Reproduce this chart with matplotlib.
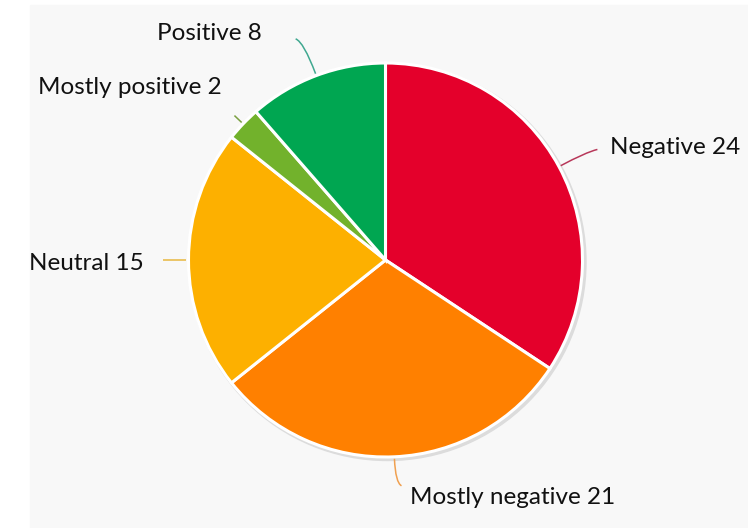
import numpy as np
import matplotlib.pyplot as plt
from matplotlib.patches import Rectangle, Circle, Path, PathPatch

# sentiment counts, clockwise from 12 o'clock
labels = ['Negative', 'Mostly negative', 'Neutral', 'Mostly positive', 'Positive']
counts = [24, 21, 15, 2, 8]
colors = ['#e4002b', '#ff8000', '#fdb000', '#72b22c', '#00a651']
line_colors = ['#b8385a', '#f0a050', '#e8b840', '#7aa040', '#40a890']

W, H = 748, 528
fig = plt.figure(figsize=(W / 100, H / 100), dpi=100)
ax = fig.add_axes([0, 0, 1, 1])

# grey panel behind the chart
ax.add_patch(Rectangle((30, 0), W - 30, H - 5, color='#f8f8f8', zorder=0))

cx, cy, r = 385.5, 268, 197
# faint shadow
ax.add_patch(Circle((cx + 2, cy - 2), r + 1.5, color='#dcdcdc', zorder=1))

wedges, _ = ax.pie(counts, colors=colors, startangle=90, counterclock=False,
                   center=(cx, cy), radius=r, frame=True,
                   wedgeprops=dict(edgecolor='white', linewidth=2.2, zorder=2))
ax.set_xlim(0, W)
ax.set_ylim(0, H)
ax.set_aspect('equal')
ax.axis('off')

# connector: radial length, horizontal bend, text position (px from top-left), alignment
conn = {
    'Negative': (30, 12, (610, 148), 'left'),
    'Mostly negative': (26, 6, (410, 498), 'left'),
    'Neutral': (25, 0, (144, 263), 'right'),
    'Mostly positive': (12, 0, (222, 88), 'right'),
    'Positive': (36, -8, (262, 33), 'right'),
}

for w, lab, n, lc in zip(wedges, labels, counts, line_colors):
    mid = np.deg2rad((w.theta1 + w.theta2) / 2)
    ux, uy = np.cos(mid), np.sin(mid)
    L, bend, (tx, ty), ha = conn[lab]
    p0 = (cx + (r + 2) * ux, cy + (r + 2) * uy)
    p1 = (cx + (r + L) * ux, cy + (r + L) * uy)
    if bend:
        p2 = (p1[0] + bend, p1[1] + 3 * np.sign(uy))
        path = Path([p0, p1, p2], [Path.MOVETO, Path.CURVE3, Path.CURVE3])
    else:
        path = Path([p0, p1], [Path.MOVETO, Path.LINETO])
    ax.add_patch(PathPatch(path, fill=False, edgecolor=lc, lw=1.1, zorder=3))
    ax.text(tx, H - ty, f'{lab} {n}', ha=ha, va='center', fontsize=17.5,
            family='Lato', color='#111111', zorder=4)

fig.savefig('out.png', dpi=100)
